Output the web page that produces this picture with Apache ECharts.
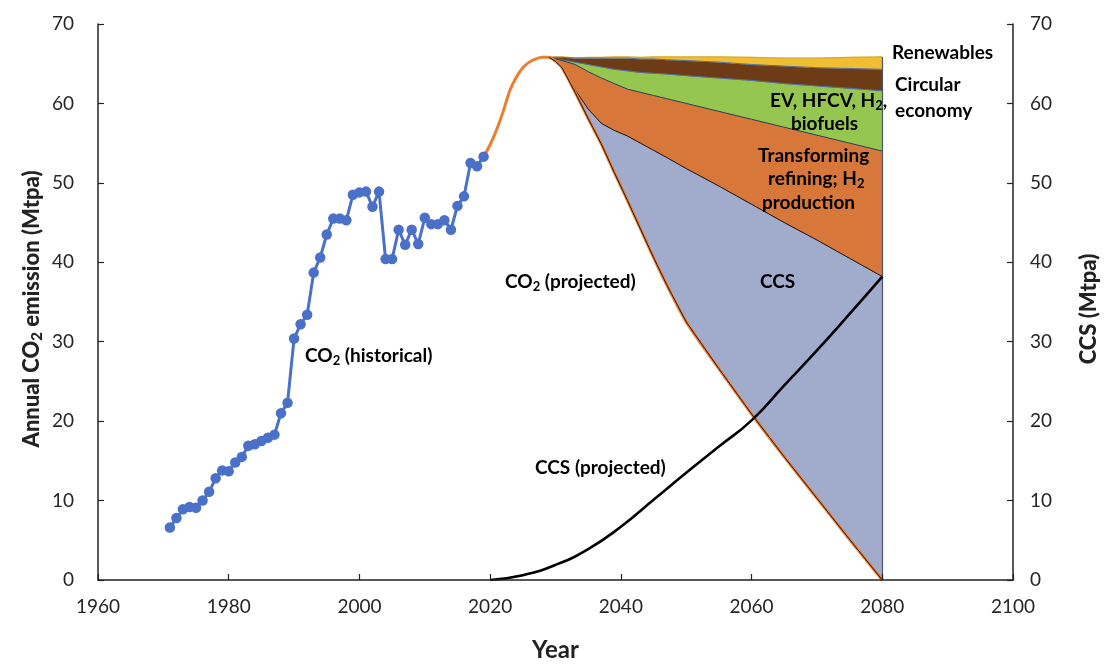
<!DOCTYPE html>
<html>
<head>
<meta charset="utf-8">
<title>Annual CO2 emission and CCS</title>
<script src="https://cdn.jsdelivr.net/npm/echarts@6/dist/echarts.min.js"></script>
<style>
  html, body { margin: 0; padding: 0; background: #fff; }
  #chart { width: 1105px; height: 667px; }
</style>
</head>
<body>
<div id="chart"></div>
<script>
// Historical annual CO2 emission (Mtpa)
const histYears = [1971,1972,1973,1974,1975,1976,1977,1978,1979,1980,1981,1982,1983,1984,1985,1986,1987,1988,1989,1990,
  1991,1992,1993,1994,1995,1996,1997,1998,1999,2000,2001,2002,2003,2004,2005,2006,2007,2008,2009,2010,
  2011,2012,2013,2014,2015,2016,2017,2018,2019];
const histValues = [6.6,7.8,8.9,9.2,9.1,10.0,11.1,12.8,13.8,13.7,14.8,15.5,16.9,17.1,17.5,17.9,18.3,21.0,22.3,30.4,
  32.2,33.4,38.7,40.6,43.5,45.5,45.5,45.3,48.5,48.8,48.9,47.0,48.9,40.4,40.4,44.1,42.2,44.1,42.3,45.6,
  44.8,44.8,45.3,44.1,47.1,48.3,52.5,52.1,53.3];

// Projected CO2 emission (Mtpa)
const projYears = [2019,2020,2021,2022,2023,2024,2025,2026,2027,2028,2029,2030,2031,2033,2035,2037,2039,2041,2043,2045,2047,2050,2055,2060,2065,2070,2075,2080];
const projValues = [53.3,54.8,56.7,59.0,61.6,63.3,64.5,65.2,65.6,65.8,65.8,65.3,64.5,61.4,58.1,54.9,51.3,47.8,44.2,40.6,37.2,32.5,26.6,20.9,15.5,10.3,5.1,0];

// Emission cuts by measure (Mtpa), relative to the 2029 peak
const cutYears     = [2029,2030,2031,2033,2035,2037,2039,2041,2043,2045,2047,2050,2055,2060,2065,2070,2075,2080];
const ccsCut       = [0,0,0,0.3,1.2,2.6,5.3,8.1,10.8,13.5,16.0,19.3,23.0,26.4,29.5,32.5,35.4,38.2];
const refiningCut  = [0,0.3,0.9,3.2,4.7,5.7,5.9,5.9,6.4,6.9,7.4,8.2,9.4,10.7,12.0,13.2,14.5,15.8];
const evCut        = [0,0.1,0.1,0.3,0.9,1.4,1.8,2.3,2.5,2.8,3.1,3.5,4.2,4.9,5.5,6.2,6.9,7.6];
const circularCut  = [0,0.1,0.3,0.5,0.8,1.1,1.4,1.6,1.7,1.8,1.8,1.9,2.0,2.0,2.2,2.3,2.5,2.7];
const renewableCut = [0,0.05,0.05,0.05,0.1,0.1,0.15,0.15,0.2,0.25,0.35,0.45,0.65,0.9,1.0,1.2,1.4,1.55];

// Projected CCS capacity (Mtpa, right axis)
const ccsYears  = [2020,2025,2030,2035,2040,2045,2050,2055,2060,2065,2070,2075,2080];
const ccsValues = [0,0.6,1.9,3.9,6.7,10.1,13.5,16.8,20.1,24.5,28.9,33.5,38.2];

// Axis ticks
const xTicks = { min: 1960, max: 2100, step: 20 };
const yTicks = { min: 0, max: 70, step: 10 };

const FONT = 'Lato, "Open Sans", sans-serif';

// Residual emission at each cut year, then cumulative layer boundaries
const baseLine = cutYears.map(y => projValues[projYears.indexOf(y)]);
function addLayer(prev, layer) { return prev.map((v, i) => +(v + layer[i]).toFixed(3)); }
const ccsTop = addLayer(baseLine, ccsCut);
const refTop = addLayer(ccsTop, refiningCut);
const evTop = addLayer(refTop, evCut);
const circTop = addLayer(evTop, circularCut);
const renTop = addLayer(circTop, renewableCut);
const pairs = (xs, ys) => xs.map((x, i) => [x, ys[i]]);

// Filled wedge between two boundaries, projected through the grid's scales
function wedge(name, lower, upper, fill) {
  return {
    name, type: 'custom', coordinateSystem: 'cartesian2d', silent: true, z: 1,
    data: [[cutYears[0], lower[0]]],
    renderItem: function (params, api) {
      const pts = [];
      for (let i = 0; i < cutYears.length; i++) pts.push(api.coord([cutYears[i], upper[i]]));
      for (let i = cutYears.length - 1; i >= 0; i--) pts.push(api.coord([cutYears[i], lower[i]]));
      return { type: 'polygon', shape: { points: pts }, style: { fill: fill, stroke: fill, lineWidth: 0.5 } };
    }
  };
}

function edge(name, values, color, width, extra) {
  return Object.assign({
    name, type: 'line', data: pairs(cutYears, values), symbol: 'none', silent: true, z: 3,
    lineStyle: { color, width }
  }, extra || {});
}

const chart = echarts.init(document.getElementById('chart'), null, { renderer: 'canvas' });

function richFor(size, subSize, color, weight) {
  return {
    a: { fontFamily: FONT, fontWeight: weight, fontSize: size, color: color, fill: color },
    s: { fontFamily: FONT, fontWeight: weight, fontSize: subSize, color: color, fill: color, padding: [Math.round(size * 0.5), 0, 0, 0] }
  };
}

function label(x, y, text) {
  return {
    type: 'text', left: x, top: y, z: 100,
    style: { text, rich: richFor(19, 13, '#000', 'bold'), font: 'bold 19px ' + FONT, fill: '#000' }
  };
}

// Rotated axis title, centred on (cx, cy), reading bottom to top
function axisTitle(cx, cy, text) {
  return {
    type: 'text', x: cx, y: cy, rotation: Math.PI / 2, z: 100,
    style: {
      text, rich: richFor(22, 15, '#222', 900), font: '900 22px ' + FONT, fill: '#222',
      align: 'center', verticalAlign: 'middle', textAlign: 'center', textVerticalAlign: 'middle'
    }
  };
}

const last = cutYears.length - 1;

chart.setOption({
  animation: false,
  backgroundColor: '#fff',
  grid: { left: 98, right: 92, top: 24, bottom: 83 },
  xAxis: {
    type: 'value', min: xTicks.min, max: xTicks.max, interval: xTicks.step, z: 10,
    name: 'Year', nameLocation: 'middle', nameGap: 58,
    nameTextStyle: { fontFamily: FONT, fontWeight: 'bold', fontSize: 24, color: '#222' },
    axisLine: { lineStyle: { color: '#222', width: 1.5 } },
    axisTick: { inside: true, length: 6, lineStyle: { color: '#222', width: 1.2 } },
    axisLabel: { fontFamily: FONT, fontSize: 19, color: '#262626', margin: 17, formatter: v => String(v) },
    splitLine: { show: false }
  },
  yAxis: [{
    type: 'value', min: yTicks.min, max: yTicks.max, interval: yTicks.step, z: 10,
    axisLine: { show: true, lineStyle: { color: '#222', width: 1.5 } },
    axisTick: { show: true, inside: true, length: 6, lineStyle: { color: '#222', width: 1.2 } },
    axisLabel: { fontFamily: FONT, fontSize: 19, color: '#262626', margin: 24 },
    splitLine: { show: false }
  }, {
    type: 'value', position: 'right', min: yTicks.min, max: yTicks.max, interval: yTicks.step, z: 10,
    axisLine: { show: true, lineStyle: { color: '#222', width: 1.5 } },
    axisTick: { show: true, inside: true, length: 6, lineStyle: { color: '#222', width: 1.2 } },
    axisLabel: { fontFamily: FONT, fontSize: 19, color: '#262626', margin: 17 },
    splitLine: { show: false }
  }],
  series: [
    wedge('CCS', baseLine, ccsTop, '#a1abcc'),
    wedge('Transforming refining; H2 production', ccsTop, refTop, '#d7783a'),
    wedge('EV, HFCV, H2, biofuels', refTop, evTop, '#95c650'),
    wedge('Circular economy', evTop, circTop, '#6e3b17'),
    wedge('Renewables', circTop, renTop, '#f0bd33'),
    edge('Renewables edge', renTop, '#d9a82a', 1.2, {
      markLine: {
        silent: true, symbol: 'none', label: { show: false },
        lineStyle: { color: '#4b5570', width: 1.2, type: 'solid' },
        data: [[{ coord: [cutYears[last], 0] }, { coord: [cutYears[last], renTop[last]] }]]
      }
    }),
    edge('Circular economy edge', circTop, '#4f6fa8', 1),
    edge('EV edge', evTop, '#4f6fa8', 1),
    edge('Refining edge', refTop, '#2c3850', 1),
    edge('CCS edge', ccsTop, '#111', 1),
    { name: 'CO2 (projected)', type: 'line', data: pairs(projYears, projValues), symbol: 'none', smooth: 0.3, z: 4,
      lineStyle: { color: '#ed7d31', width: 3 } },
    edge('CO2 edge', baseLine, '#1a1a1a', 1, { z: 5 }),
    { name: 'CCS (projected)', type: 'line', yAxisIndex: 1, data: pairs(ccsYears, ccsValues), symbol: 'none',
      smooth: 0.5, z: 6,
      lineStyle: { color: '#000', width: 2.6 } },
    { name: 'CO2 (historical)', type: 'line', data: pairs(histYears, histValues), z: 6,
      symbol: 'circle', symbolSize: 10.5,
      itemStyle: { color: '#4a70c8' },
      lineStyle: { color: '#4a70c8', width: 3 } }
  ],
  graphic: [
    axisTitle(32, 309, '{a|Annual CO}{s|2}{a| emission (Mtpa)}'),
    axisTitle(1089, 309, '{a|CCS (Mtpa)}'),
    label(305, 346, '{a|CO}{s|2}{a| (historical)}'),
    label(505, 272, '{a|CO}{s|2}{a| (projected)}'),
    label(535, 458, '{a|CCS (projected)}'),
    label(760, 272, '{a|CCS}'),
    label(758, 146, '{a|Transforming}'),
    label(768, 169, '{a|refining; H}{s|2}'),
    label(762, 193, '{a|production}'),
    label(770, 91, '{a|EV, HFCV, H}{s|2}{a|,}'),
    label(791, 114, '{a|biofuels}'),
    label(892, 43, '{a|Renewables}'),
    label(895, 75, '{a|Circular}'),
    label(895, 101, '{a|economy}')
  ]
});
</script>
</body>
</html>
